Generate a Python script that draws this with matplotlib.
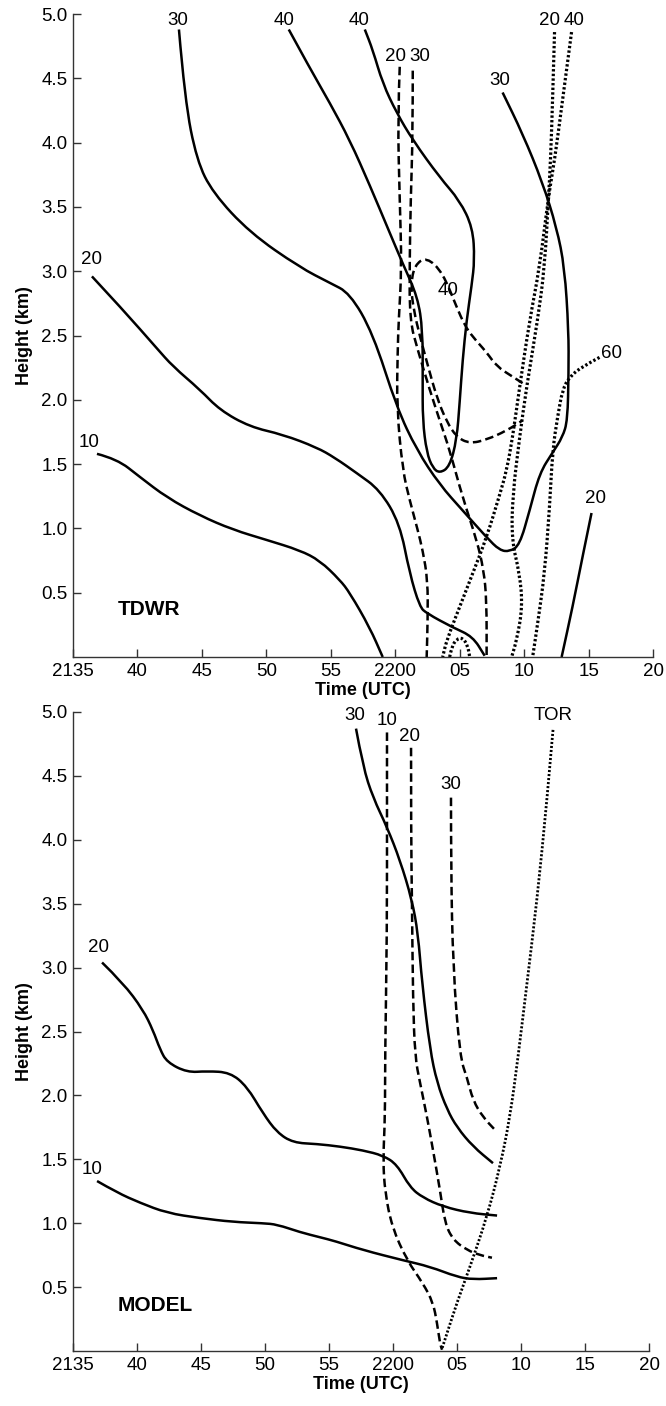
import matplotlib
matplotlib.use("Agg")
import matplotlib.pyplot as plt
from matplotlib.path import Path
from matplotlib.patches import PathPatch

plt.rcParams['font.family'] = ['Liberation Sans', 'DejaVu Sans']

# time in minutes after 2135 UTC, height in km
xticks = [0, 5, 10, 15, 20, 25, 30, 35, 40, 45]
xticklabels = ['2135', '40', '45', '50', '55', '2200', '05', '10', '15', '20']
yticks = [0.5, 1.0, 1.5, 2.0, 2.5, 3.0, 3.5, 4.0, 4.5, 5.0]

# ---------------- TDWR ----------------
# solid contours
tdwr_s10_t = [1.86, 3.41, 5.19, 7.29, 9.84, 12.40, 15.04, 17.60, 19.15, 20.70, 21.47, 23.02, 24.03]
tdwr_s10_h = [1.58, 1.54, 1.40, 1.24, 1.10, 0.99, 0.91, 0.83, 0.75, 0.60, 0.50, 0.23, 0.0]

tdwr_s20_t = [1.47, 3.88, 6.51, 7.75, 9.84, 11.40, 13.72, 16.28, 18.91, 20.31, 22.02, 23.80,
              25.35, 26.12, 26.90, 27.44, 29.46, 31.01, 31.94]
tdwr_s20_h = [2.96, 2.70, 2.40, 2.26, 2.08, 1.92, 1.79, 1.73, 1.63, 1.55, 1.43, 1.30,
              1.04, 0.65, 0.39, 0.34, 0.23, 0.16, 0.01]

tdwr_s30_t = [8.22, 8.68, 9.61, 10.85, 13.72, 17.60, 19.92, 21.47, 23.26, 25.12, 26.67, 28.45,
              30.23, 32.09, 33.10, 33.88, 34.65, 35.43, 36.20, 37.21, 37.98, 38.37, 38.45,
              38.45, 38.14, 37.52, 36.43, 34.88, 33.33]
tdwr_s30_h = [4.88, 4.33, 3.86, 3.61, 3.30, 3.03, 2.91, 2.83, 2.52, 1.94, 1.61, 1.34,
              1.14, 0.93, 0.83, 0.82, 0.87, 1.14, 1.43, 1.59, 1.71, 1.84, 2.21,
              2.54, 3.03, 3.34, 3.69, 4.07, 4.39]

tdwr_s40_t = [16.74, 18.37, 19.92, 21.47, 23.02, 24.57, 25.58, 26.74, 27.13, 27.13, 27.13, 27.44,
              27.91, 28.45, 29.22, 29.77, 30.00, 30.23, 30.54, 30.93, 31.16, 31.01, 30.00,
              28.45, 26.36, 25.12, 24.03, 23.26, 22.64]
tdwr_s40_h = [4.88, 4.58, 4.31, 4.02, 3.67, 3.30, 3.06, 2.80, 2.54, 2.15, 1.84, 1.59,
              1.47, 1.43, 1.48, 1.69, 1.98, 2.31, 2.62, 2.89, 3.09, 3.34, 3.55,
              3.73, 4.02, 4.23, 4.46, 4.72, 4.88]

tdwr_s20b_t = [40.23, 39.53, 38.76, 37.91]
tdwr_s20b_h = [1.12, 0.78, 0.39, 0.0]

# dashed contours
tdwr_d20_t = [25.35, 25.19, 25.35, 25.50, 25.27, 25.19, 25.12, 25.58, 26.12, 26.74, 27.13, 27.52, 27.52, 27.44]
tdwr_d20_h = [4.59, 4.20, 3.55, 3.03, 2.62, 2.39, 1.94, 1.45, 1.22, 0.99, 0.83, 0.60, 0.29, 0.0]

tdwr_d30_t = [26.36, 26.36, 26.20, 26.12, 26.12, 26.74, 27.67, 28.45, 29.22, 30.23, 31.32, 31.86, 32.09, 32.09]
tdwr_d30_h = [4.56, 4.07, 3.55, 3.09, 2.62, 2.39, 2.08, 1.84, 1.61, 1.24, 0.91, 0.68, 0.44, 0.0]

tdwr_d40_t = [34.88, 34.11, 32.87, 32.09, 31.01, 30.39, 29.77, 28.68, 27.44, 26.51, 26.20, 26.43,
              26.90, 27.52, 28.22, 28.99, 29.77, 30.78, 32.09, 33.64, 34.88]
tdwr_d40_h = [2.13, 2.18, 2.26, 2.37, 2.49, 2.58, 2.72, 2.99, 3.11, 3.05, 2.89, 2.70,
              2.50, 2.27, 2.02, 1.83, 1.71, 1.66, 1.69, 1.76, 1.84]

# dotted contours
tdwr_p20_t = [37.36, 37.21, 37.05, 36.90, 36.59, 36.05, 35.19, 34.65, 34.11, 34.03, 34.65, 34.88, 34.42, 34.03]
tdwr_p20_h = [4.86, 4.33, 3.86, 3.59, 3.03, 2.62, 2.10, 1.71, 1.26, 0.91, 0.65, 0.39, 0.13, 0.0]

tdwr_p40_t = [38.68, 37.98, 37.36, 36.90, 36.20, 35.43, 34.65, 34.11, 33.64, 33.10, 32.09, 31.01, 30.00, 28.99, 28.68]
tdwr_p40_h = [4.86, 4.33, 3.86, 3.59, 3.03, 2.62, 2.10, 1.71, 1.45, 1.26, 0.93, 0.65, 0.39, 0.13, 0.0]

tdwr_p60_t = [40.85, 39.53, 38.53, 37.98, 37.60, 37.21, 36.98, 36.59, 36.05, 35.66]
tdwr_p60_h = [2.33, 2.26, 2.18, 2.08, 1.87, 1.61, 1.17, 0.65, 0.26, 0.0]

tdwr_pdome_t = [29.22, 29.38, 29.77, 30.23, 30.62, 30.78]
tdwr_pdome_h = [0.0, 0.08, 0.14, 0.15, 0.09, 0.0]

# ---------------- MODEL ----------------
model_s10_t = [1.88, 3.44, 5.23, 7.34, 9.92, 12.50, 14.84, 15.94, 17.73, 19.30, 20.47, 22.66,
               25.78, 27.89, 30.00, 31.25, 33.13]
model_s10_h = [1.33, 1.24, 1.16, 1.08, 1.04, 1.01, 1.00, 0.99, 0.93, 0.89, 0.86, 0.79,
               0.71, 0.66, 0.58, 0.56, 0.57]

model_s20_t = [2.27, 3.91, 5.47, 6.25, 6.80, 7.34, 8.91, 10.47, 12.27, 13.59, 14.84, 15.94,
               17.19, 19.06, 20.86, 22.66, 24.22, 25.31, 26.33, 27.34, 28.91, 31.02, 33.13]
model_s20_h = [3.04, 2.88, 2.67, 2.51, 2.36, 2.26, 2.18, 2.19, 2.18, 2.07, 1.86, 1.71,
               1.63, 1.62, 1.60, 1.57, 1.53, 1.46, 1.28, 1.20, 1.13, 1.08, 1.06]

model_s30_t = [22.11, 22.66, 23.44, 24.53, 25.55, 26.48, 26.95, 27.27, 27.89, 28.44, 29.22, 30.00, 31.25, 32.81]
model_s30_h = [4.87, 4.57, 4.33, 4.10, 3.84, 3.53, 3.27, 2.88, 2.36, 2.10, 1.89, 1.75, 1.60, 1.47]

model_d10_t = [24.53, 24.53, 24.53, 24.38, 24.38, 24.22, 24.38, 24.92, 26.09, 27.34, 28.13, 28.44, 28.67, 28.83]
model_d10_h = [4.84, 4.31, 3.27, 2.30, 1.83, 1.49, 1.24, 0.97, 0.71, 0.53, 0.38, 0.22, 0.06, 0.01]

model_d20_t = [26.41, 26.41, 26.48, 26.56, 26.72, 27.11, 27.66, 28.13, 28.67, 29.06, 29.69, 30.78, 31.80, 32.73]
model_d20_h = [4.72, 4.05, 3.53, 2.75, 2.30, 2.10, 1.83, 1.57, 1.26, 1.00, 0.87, 0.79, 0.75, 0.73]

model_d30_t = [29.53, 29.53, 29.69, 30.23, 30.78, 31.25, 32.03, 32.97]
model_d30_h = [4.33, 3.79, 3.00, 2.30, 2.14, 1.96, 1.83, 1.73]

model_tor_t = [37.50, 37.03, 36.25, 35.47, 34.77, 34.14, 33.36, 32.34, 31.02, 30.00, 29.06, 28.83]
model_tor_h = [4.86, 4.31, 3.53, 2.88, 2.30, 1.83, 1.44, 1.05, 0.66, 0.38, 0.09, 0.02]

SOLID = '-'
DASH = (0, (3.4, 1.7))
DOT = (0, (0.75, 0.7))
FS = 13.5

fig = plt.figure(figsize=(6.66, 14.06), dpi=100)
ax1 = fig.add_axes([0.1096, 0.5327, 0.8709, 0.4573])
ax2 = fig.add_axes([0.1096, 0.0391, 0.8649, 0.4545])


def style_axes(ax):
    ax.set_xlim(0, 45)
    ax.set_ylim(0, 5)
    ax.set_xticks(xticks)
    ax.set_xticklabels(xticklabels)
    ax.set_yticks(yticks)
    ax.spines['top'].set_visible(False)
    ax.spines['right'].set_visible(False)
    for s in ['left', 'bottom']:
        ax.spines[s].set_linewidth(1.0)
        ax.spines[s].set_color('#333333')
    ax.tick_params(direction='in', length=6, width=1.0, color='#333333', labelsize=FS, pad=4)
    ax.set_ylabel('Height (km)', fontsize=13, fontweight='bold', labelpad=6)
    ax.set_xlabel('Time (UTC)', fontsize=13, fontweight='bold', labelpad=2)


def line(ax, t, h, ls, lw=1.8):
    # smooth curve through the read points (quadratic pieces via midpoints)
    pts = list(zip(t, h))
    verts = [pts[0]]
    codes = [Path.MOVETO]
    for i in range(1, len(pts) - 1):
        mid = ((pts[i][0] + pts[i + 1][0]) / 2, (pts[i][1] + pts[i + 1][1]) / 2)
        verts += [pts[i], mid]
        codes += [Path.CURVE3, Path.CURVE3]
    verts.append(pts[-1])
    codes.append(Path.LINETO)
    ax.add_patch(PathPatch(Path(verts, codes), fill=False, edgecolor='black', lw=lw,
                           linestyle=ls, capstyle='butt', joinstyle='round', clip_on=False))


# top panel
line(ax1, tdwr_s10_t, tdwr_s10_h, SOLID)
line(ax1, tdwr_s20_t, tdwr_s20_h, SOLID)
line(ax1, tdwr_s30_t, tdwr_s30_h, SOLID)
line(ax1, tdwr_s40_t, tdwr_s40_h, SOLID)
line(ax1, tdwr_s20b_t, tdwr_s20b_h, SOLID)
line(ax1, tdwr_d20_t, tdwr_d20_h, DASH)
line(ax1, tdwr_d30_t, tdwr_d30_h, DASH)
line(ax1, tdwr_d40_t, tdwr_d40_h, DASH)
line(ax1, tdwr_p20_t, tdwr_p20_h, DOT, 2.3)
line(ax1, tdwr_p40_t, tdwr_p40_h, DOT, 2.3)
line(ax1, tdwr_p60_t, tdwr_p60_h, DOT, 2.3)
line(ax1, tdwr_pdome_t, tdwr_pdome_h, DOT, 2.3)

kw = dict(fontsize=FS, ha='center', va='center')
ax1.text(8.1, 4.95, '30', **kw)
ax1.text(16.4, 4.95, '40', **kw)
ax1.text(22.2, 4.95, '40', **kw)
ax1.text(25.0, 4.67, '20', **kw)
ax1.text(26.9, 4.67, '30', **kw)
ax1.text(37.0, 4.95, '20', **kw)
ax1.text(38.9, 4.95, '40', **kw)
ax1.text(33.1, 4.48, '30', **kw)
ax1.text(1.4, 3.09, '20', **kw)
ax1.text(1.25, 1.67, '10', **kw)
ax1.text(29.1, 2.85, '40', **kw)
ax1.text(41.0, 2.36, '60', fontsize=FS, ha='left', va='center')
ax1.text(40.5, 1.23, '20', **kw)
ax1.text(3.5, 0.37, 'TDWR', fontsize=15, fontweight='bold', ha='left', va='center')
style_axes(ax1)

# bottom panel
line(ax2, model_s10_t, model_s10_h, SOLID)
line(ax2, model_s20_t, model_s20_h, SOLID)
line(ax2, model_s30_t, model_s30_h, SOLID)
line(ax2, model_d10_t, model_d10_h, DASH)
line(ax2, model_d20_t, model_d20_h, DASH)
line(ax2, model_d30_t, model_d30_h, DASH)
line(ax2, model_tor_t, model_tor_h, DOT, 2.0)

ax2.text(22.0, 4.97, '30', **kw)
ax2.text(24.5, 4.93, '10', **kw)
ax2.text(26.3, 4.81, '20', **kw)
ax2.text(29.5, 4.43, '30', **kw)
ax2.text(37.5, 4.97, 'TOR', **kw)
ax2.text(2.0, 3.16, '20', **kw)
ax2.text(1.5, 1.42, '10', **kw)
ax2.text(3.5, 0.36, 'MODEL', fontsize=15, fontweight='bold', ha='left', va='center')
style_axes(ax2)

fig.savefig('out.png', dpi=100)
